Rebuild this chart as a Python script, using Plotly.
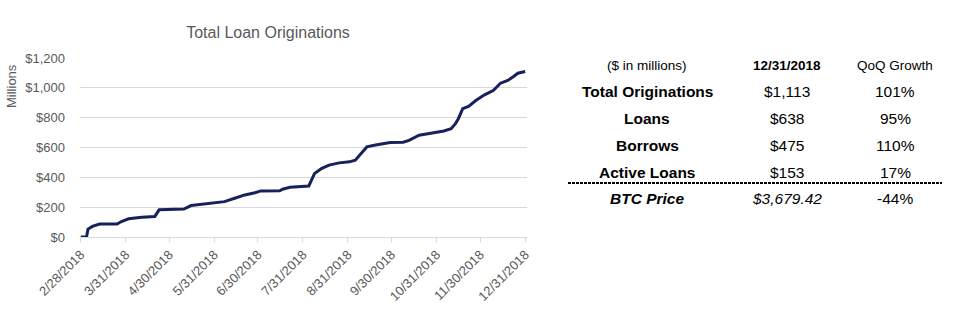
import plotly.graph_objects as go

# ---- data ----
dates = ["2018-02-28", "2018-03-04", "2018-03-05", "2018-03-08", "2018-03-13", "2018-03-25",
         "2018-03-28", "2018-04-02", "2018-04-11", "2018-04-20", "2018-04-23", "2018-05-10",
         "2018-05-15", "2018-05-28", "2018-06-07", "2018-06-14", "2018-06-21", "2018-06-28",
         "2018-07-02", "2018-07-15", "2018-07-17", "2018-07-22", "2018-08-04", "2018-08-08",
         "2018-08-13", "2018-08-18", "2018-08-25", "2018-09-01", "2018-09-05", "2018-09-08",
         "2018-09-13", "2018-09-18", "2018-09-29", "2018-10-08", "2018-10-12", "2018-10-19",
         "2018-10-29", "2018-11-05", "2018-11-10", "2018-11-13", "2018-11-15", "2018-11-18",
         "2018-11-22", "2018-11-27", "2018-12-03", "2018-12-09", "2018-12-14", "2018-12-19",
         "2018-12-23", "2018-12-26", "2018-12-31"]
originations = [0, 0, 53, 71, 87, 87,
                104, 122, 133, 138, 182, 187,
                211, 226, 237, 260, 282, 297,
                309, 310, 320, 333, 342, 426,
                460, 482, 497, 504, 515, 548,
                604, 615, 633, 635, 648, 682,
                697, 711, 726, 760, 793, 860,
                875, 915, 953, 982, 1031, 1049,
                1076, 1098, 1110]

tick_dates = ["2018-02-28", "2018-03-31", "2018-04-30", "2018-05-31", "2018-06-30", "2018-07-31",
              "2018-08-31", "2018-09-30", "2018-10-31", "2018-11-30", "2018-12-31"]
tick_labels = ["2/28/2018", "3/31/2018", "4/30/2018", "5/31/2018", "6/30/2018", "7/31/2018",
               "8/31/2018", "9/30/2018", "10/31/2018", "11/30/2018", "12/31/2018"]
y_ticks = [0, 200, 400, 600, 800, 1000, 1200]
y_labels = ["$0", "$200", "$400", "$600", "$800", "$1,000", "$1,200"]

table_header = ["($ in millions)", "12/31/2018", "QoQ Growth"]
row_labels = ["Total Originations", "Loans", "Borrows", "Active Loans", "BTC Price"]
row_values = ["$1,113", "$638", "$475", "$153", "$3,679.42"]
row_growth = ["101%", "95%", "110%", "17%", "-44%"]

# ---- layout geometry (pixels) ----
W, H = 958, 325
L, R, T, B = 80, 527, 58, 237
px = lambda x: (x - L) / (R - L)
py = lambda y: (B - y) / (B - T)

GRAY = "#595959"
FONT = "Liberation Sans, Arial, sans-serif"

fig = go.Figure()
fig.add_trace(go.Scatter(x=dates, y=originations, mode="lines",
                         line=dict(color="#17225A", width=3), hoverinfo="skip"))

fig.update_layout(
    width=W, height=H,
    margin=dict(l=L, r=W - R, t=T, b=H - B),
    paper_bgcolor="white", plot_bgcolor="white",
    showlegend=False,
    font=dict(family=FONT, color=GRAY, size=12),
    title=dict(text="Total Loan Originations", x=268 / W, xref="container", xanchor="center",
               y=1 - 32 / H, yref="container", yanchor="middle",
               font=dict(size=16, color=GRAY, family=FONT)),
    xaxis=dict(type="date", range=["2018-02-27 12:00", "2019-01-01 06:00"],
               tickvals=tick_dates, ticktext=tick_labels, tickangle=-45,
               showgrid=False, showline=True, linecolor="#D9D9D9", linewidth=1,
               ticks="outside", ticklen=4, tickcolor="#D9D9D9",
               tickfont=dict(size=13, color=GRAY), zeroline=False),
    yaxis=dict(range=[0, 1200], tickvals=y_ticks, ticktext=y_labels,
               showgrid=True, gridcolor="#D9D9D9", gridwidth=1,
               zeroline=False, showline=False, ticks="", ticklabelstandoff=14,
               tickfont=dict(size=13, color=GRAY)),
)

# y-axis title
fig.add_annotation(text="Millions", xref="paper", yref="paper", x=px(12), y=py(86),
                   textangle=-90, showarrow=False, xanchor="center", yanchor="middle",
                   font=dict(size=13, color=GRAY, family=FONT))

# ---- table ----
col_x = [647, 787, 895]
header_y = 65
row_y = [91, 118, 145, 172, 198]

for i, h in enumerate(table_header):
    txt = f"<b>{h}</b>" if i == 1 else h
    fig.add_annotation(text=txt, xref="paper", yref="paper", x=px(col_x[i]), y=py(header_y),
                       showarrow=False, xanchor="center", yanchor="middle",
                       font=dict(size=13.5, color="black", family=FONT))

for r, (lab, val, gr) in enumerate(zip(row_labels, row_values, row_growth)):
    last = r == len(row_labels) - 1
    lab_t = f"<b><i>{lab}</i></b>" if last else f"<b>{lab}</b>"
    val_t = f"<i>{val}</i>" if last else val
    for c, t in enumerate([lab_t, val_t, gr]):
        fig.add_annotation(text=t, xref="paper", yref="paper", x=px(col_x[c]), y=py(row_y[r]),
                           showarrow=False, xanchor="center", yanchor="middle",
                           font=dict(size=15.5, color="black", family=FONT))

fig.add_shape(type="line", xref="paper", yref="paper", x0=px(568), x1=px(942),
              y0=py(183), y1=py(183), line=dict(color="black", width=2, dash="3px,1px"))

fig.write_html("out.html")
